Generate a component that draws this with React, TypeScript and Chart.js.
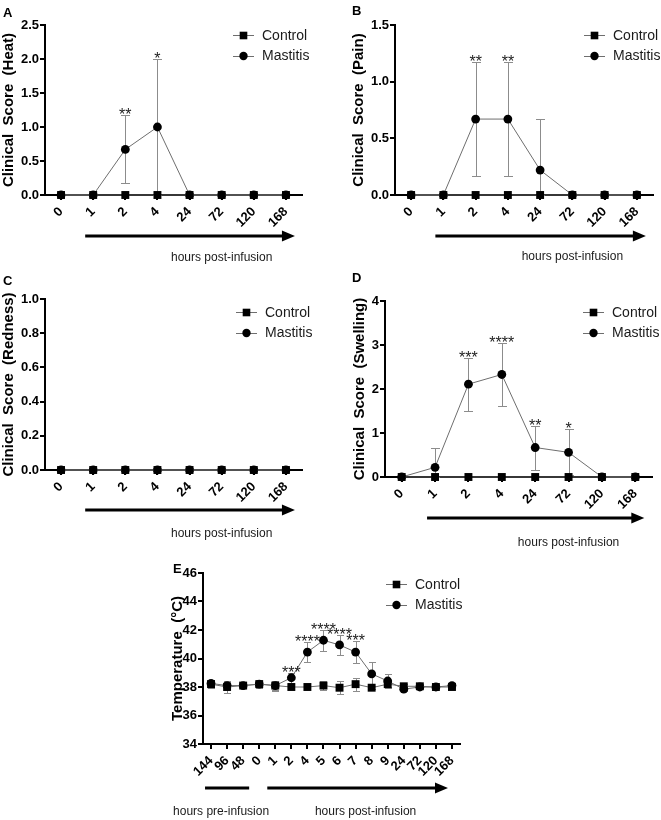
import { useEffect, useRef } from 'react';
import { Chart, registerables } from 'chart.js';

Chart.register(...registerables);

const FONT = '"Liberation Sans", Arial, Helvetica, sans-serif';

// ---------- data ----------
const postHours = ['0', '1', '2', '4', '24', '72', '120', '168'];

const heatControl = [0, 0, 0, 0, 0, 0, 0, 0];
const heatMastitis = [0, 0, 0.67, 1.0, 0, 0, 0, 0];
const heatMastitisSem = [0, 0, 0.5, 1.0, 0, 0, 0, 0];
const heatStars = ['', '', '**', '*', '', '', '', ''];

const painControl = [0, 0, 0, 0, 0, 0, 0, 0];
const painMastitis = [0, 0, 0.67, 0.67, 0.22, 0, 0, 0];
const painMastitisSem = [0, 0, 0.5, 0.5, 0.45, 0, 0, 0];
const painStars = ['', '', '**', '**', '', '', '', ''];

const rednessControl = [0, 0, 0, 0, 0, 0, 0, 0];
const rednessMastitis = [0, 0, 0, 0, 0, 0, 0, 0];
const rednessMastitisSem = [0, 0, 0, 0, 0, 0, 0, 0];
const rednessStars = ['', '', '', '', '', '', '', ''];

const swellingControl = [0, 0, 0, 0, 0, 0, 0, 0];
const swellingMastitis = [0, 0.22, 2.11, 2.33, 0.67, 0.56, 0, 0];
const swellingMastitisSem = [0, 0.45, 0.6, 0.71, 0.5, 0.52, 0, 0];
const swellingStars = ['', '', '***', '****', '**', '*', '', ''];

const tempHours = ['144', '96', '48', '0', '1', '2', '4', '5', '6', '7', '8', '9', '24', '72', '120', '168'];
const tempControl = [38.2, 38.0, 38.1, 38.2, 38.1, 38.0, 38.0, 38.1, 37.95, 38.2, 37.95, 38.2, 38.05, 38.05, 38.0, 38.0];
const tempControlSem = [0.3, 0.45, 0.1, 0.3, 0.35, 0.1, 0.1, 0.3, 0.45, 0.45, 0.1, 0.2, 0.15, 0.15, 0.1, 0.15];
const tempMastitis = [38.25, 38.1, 38.1, 38.2, 38.1, 38.65, 40.45, 41.28, 40.95, 40.45, 38.92, 38.42, 37.85, 38.0, 38.0, 38.1];
const tempMastitisSem = [0.25, 0.25, 0.1, 0.25, 0.3, 0.35, 0.7, 0.72, 0.68, 0.76, 0.84, 0.52, 0.1, 0.1, 0.1, 0.15];
const tempStars = ['', '', '', '', '', '***', '****', '****', '****', '***', '', '', '', '', '', ''];

const seriesNames = ['Control', 'Mastitis'];

// ---------- panel layout ----------
type Bar = { from: number; fromOff: number; to: number; toOff: number; head: boolean };
type Note = { text: string; at: number; off: number };
type Panel = {
  key: string;
  letter: string; letterX: number; letterY: number;
  left: number; top: number; width: number; height: number;
  padLeft: number; padTop: number; padRight: number;
  yWidth: number; xHeight: number;
  labels: string[];
  control: number[]; mastitis: number[];
  controlSem: number[] | null; mastitisSem: number[] | null;
  stars: string[];
  yMin: number; yMax: number; yStep: number; decimals: number;
  yTitle: string;
  legendDx: number; legendDy: number;
  bars: Bar[]; barDy: number;
  notes: Note[]; noteDy: number;
  cap: number;
};

const postBars: Bar[] = [{ from: 1, fromOff: -8, to: 7, toOff: 9, head: true }];
const postNotes: Note[] = [{ text: 'hours post-infusion', at: 5, off: 0 }];

const panels: Panel[] = [
  {
    key: 'A', letter: 'A', letterX: 3, letterY: 17,
    left: 0, top: 0, width: 330, height: 270,
    padLeft: 0, padTop: 25, padRight: 28, yWidth: 45, xHeight: 75,
    labels: postHours, control: heatControl, mastitis: heatMastitis,
    controlSem: null, mastitisSem: heatMastitisSem, stars: heatStars,
    yMin: 0, yMax: 2.5, yStep: 0.5, decimals: 1,
    yTitle: 'Clinical  Score  (Heat)',
    legendDx: -40, legendDy: 10,
    bars: postBars, barDy: 41, notes: postNotes, noteDy: 63, cap: 4.5,
  },
  {
    key: 'B', letter: 'B', letterX: 22, letterY: 15,
    left: 330, top: 0, width: 331, height: 270,
    padLeft: 20, padTop: 25, padRight: 8, yWidth: 45, xHeight: 75,
    labels: postHours, control: painControl, mastitis: painMastitis,
    controlSem: null, mastitisSem: painMastitisSem, stars: painStars,
    yMin: 0, yMax: 1.5, yStep: 0.5, decimals: 1,
    yTitle: 'Clinical  Score  (Pain)',
    legendDx: -40, legendDy: 10,
    bars: postBars, barDy: 41, notes: postNotes, noteDy: 62, cap: 4.5,
  },
  {
    key: 'C', letter: 'C', letterX: 3, letterY: 15,
    left: 0, top: 270, width: 330, height: 275,
    padLeft: 0, padTop: 29, padRight: 28, yWidth: 45, xHeight: 75,
    labels: postHours, control: rednessControl, mastitis: rednessMastitis,
    controlSem: null, mastitisSem: rednessMastitisSem, stars: rednessStars,
    yMin: 0, yMax: 1.0, yStep: 0.2, decimals: 1,
    yTitle: 'Clinical  Score  (Redness)',
    legendDx: -37, legendDy: 13,
    bars: postBars, barDy: 40, notes: postNotes, noteDy: 64, cap: 4.5,
  },
  {
    key: 'D', letter: 'D', letterX: 22, letterY: 12,
    left: 330, top: 270, width: 331, height: 285,
    padLeft: 21, padTop: 31, padRight: 9, yWidth: 34, xHeight: 78,
    labels: postHours, control: swellingControl, mastitis: swellingMastitis,
    controlSem: null, mastitisSem: swellingMastitisSem, stars: swellingStars,
    yMin: 0, yMax: 4, yStep: 1, decimals: 0,
    yTitle: 'Clinical  Score  (Swelling)',
    legendDx: -40, legendDy: 11,
    bars: postBars, barDy: 41, notes: postNotes, noteDy: 66, cap: 4.5,
  },
  {
    key: 'E', letter: 'E', letterX: 13, letterY: 33,
    left: 160, top: 540, width: 320, height: 280,
    padLeft: 9, padTop: 33, padRight: 20, yWidth: 34, xHeight: 76,
    labels: tempHours, control: tempControl, mastitis: tempMastitis,
    controlSem: tempControlSem, mastitisSem: tempMastitisSem, stars: tempStars,
    yMin: 34, yMax: 46, yStep: 2, decimals: 0,
    yTitle: 'Temperature  (°C)',
    legendDx: -45, legendDy: 11,
    bars: [
      { from: 0, fromOff: -6, to: 2, toOff: 6, head: false },
      { from: 4, fromOff: -8, to: 15, toOff: -4, head: true },
    ],
    barDy: 44,
    notes: [
      { text: 'hours pre-infusion', at: 1, off: -6 },
      { text: 'hours post-infusion', at: 9, off: 10 },
    ],
    noteDy: 68, cap: 3.5,
  },
];

const LINE = '#6e6e6e';
const ERR = '#8c8c8c';

function makeDecor(p: Panel) {
  return {
    id: 'decor' + p.key,
    beforeDatasetsDraw(chart: any) {
      const ctx = chart.ctx;
      const xs = chart.scales.x;
      const ys = chart.scales.y;
      ctx.save();
      ctx.strokeStyle = ERR;
      ctx.lineWidth = 1;
      const groups: [number[], number[] | null][] = [
        [p.mastitis, p.mastitisSem],
        [p.control, p.controlSem],
      ];
      for (const [vals, sem] of groups) {
        if (!sem) continue;
        vals.forEach((v, i) => {
          const e = sem[i];
          if (!e) return;
          const px = Math.round(xs.getPixelForValue(i)) + 0.5;
          const t = Math.round(ys.getPixelForValue(Math.min(v + e, p.yMax))) + 0.5;
          const b = Math.round(ys.getPixelForValue(Math.max(v - e, p.yMin))) + 0.5;
          ctx.beginPath();
          ctx.moveTo(px, t);
          ctx.lineTo(px, b);
          ctx.moveTo(px - p.cap, t);
          ctx.lineTo(px + p.cap, t);
          ctx.moveTo(px - p.cap, b);
          ctx.lineTo(px + p.cap, b);
          ctx.stroke();
        });
      }
      ctx.restore();
    },
    afterDraw(chart: any) {
      const ctx = chart.ctx;
      const xs = chart.scales.x;
      const ys = chart.scales.y;
      const area = chart.chartArea;
      ctx.save();
      // significance stars
      ctx.fillStyle = '#222';
      ctx.font = `16px ${FONT}`;
      ctx.textAlign = 'center';
      ctx.textBaseline = 'alphabetic';
      p.stars.forEach((s, i) => {
        if (!s) return;
        const e = p.mastitisSem ? p.mastitisSem[i] : 0;
        const top = ys.getPixelForValue(p.mastitis[i] + e);
        ctx.fillText(s, xs.getPixelForValue(i), top + 5);
      });
      // legend
      const tx = area.right + p.legendDx;
      seriesNames.forEach((name, k) => {
        const y = area.top + p.legendDy + k * 20.5;
        ctx.strokeStyle = LINE;
        ctx.lineWidth = 1;
        ctx.beginPath();
        ctx.moveTo(tx - 29, Math.round(y) + 0.5);
        ctx.lineTo(tx - 8, Math.round(y) + 0.5);
        ctx.stroke();
        ctx.fillStyle = '#000';
        const cx = tx - 18.5;
        if (k === 0) {
          ctx.fillRect(cx - 3.8, y - 3.3, 7.6, 7.6);
        } else {
          ctx.beginPath();
          ctx.arc(cx, y + 0.5, 4.2, 0, Math.PI * 2);
          ctx.fill();
        }
        ctx.fillStyle = '#1a1a1a';
        ctx.font = `14px ${FONT}`;
        ctx.textAlign = 'left';
        ctx.textBaseline = 'middle';
        ctx.fillText(name, tx, y + 1);
      });
      // time bars / arrows
      const by = area.bottom + p.barDy;
      ctx.strokeStyle = '#000';
      ctx.fillStyle = '#000';
      ctx.lineWidth = 3;
      p.bars.forEach((b) => {
        const x0 = xs.getPixelForValue(b.from) + b.fromOff;
        const x1 = xs.getPixelForValue(b.to) + b.toOff;
        ctx.beginPath();
        ctx.moveTo(x0, by);
        ctx.lineTo(b.head ? x1 - 8 : x1, by);
        ctx.stroke();
        if (b.head) {
          ctx.beginPath();
          ctx.moveTo(x1 - 13, by - 5.5);
          ctx.lineTo(x1, by);
          ctx.lineTo(x1 - 13, by + 5.5);
          ctx.closePath();
          ctx.fill();
        }
      });
      // notes
      ctx.fillStyle = '#1a1a1a';
      ctx.font = `12px ${FONT}`;
      ctx.textAlign = 'center';
      ctx.textBaseline = 'middle';
      p.notes.forEach((n) => {
        ctx.fillText(n.text, xs.getPixelForValue(n.at) + n.off, area.bottom + p.noteDy);
      });
      // panel letter
      ctx.fillStyle = '#000';
      ctx.font = `bold 13px ${FONT}`;
      ctx.textAlign = 'left';
      ctx.textBaseline = 'alphabetic';
      ctx.fillText(p.letter, p.letterX, p.letterY);
      ctx.restore();
    },
  };
}

function PanelChart({ p }: { p: Panel }) {
  const ref = useRef<HTMLCanvasElement | null>(null);
  useEffect(() => {
    if (!ref.current) return;
    const tickFont = { family: FONT, size: 13, weight: 'bold' as const };
    const chart = new Chart(ref.current, {
      type: 'line',
      data: {
        labels: p.labels,
        datasets: [
          {
            label: seriesNames[0],
            data: p.control,
            borderColor: LINE,
            borderWidth: 1,
            backgroundColor: '#000',
            pointStyle: 'rect',
            pointRadius: 5.6,
            pointBorderWidth: 0,
            pointBackgroundColor: '#000',
            clip: false as any,
            tension: 0,
          },
          {
            label: seriesNames[1],
            data: p.mastitis,
            borderColor: LINE,
            borderWidth: 1,
            backgroundColor: '#000',
            pointStyle: 'circle',
            pointRadius: 4.4,
            pointBorderWidth: 0,
            pointBackgroundColor: '#000',
            clip: false as any,
            tension: 0,
          },
        ],
      },
      options: {
        animation: false,
        responsive: false,
        devicePixelRatio: 1,
        events: [],
        layout: { padding: { left: p.padLeft, top: p.padTop, right: p.padRight, bottom: 0 } },
        plugins: { legend: { display: false }, tooltip: { enabled: false } },
        scales: {
          x: {
            type: 'category',
            offset: true,
            z: 1,
            grid: {
              display: true,
              offset: false,
              drawOnChartArea: false,
              drawTicks: true,
              tickLength: 5,
              color: '#000',
              lineWidth: 2,
            },
            border: { display: true, color: '#000', width: 2 },
            ticks: {
              color: '#000',
              font: tickFont,
              minRotation: 45,
              maxRotation: 45,
              autoSkip: false,
              padding: 4,
            },
            afterFit: (s: any) => {
              s.height = p.xHeight;
            },
          },
          y: {
            type: 'linear',
            min: p.yMin,
            max: p.yMax,
            z: 1,
            grid: {
              display: true,
              drawOnChartArea: false,
              drawTicks: true,
              tickLength: 5,
              color: '#000',
              lineWidth: 2,
            },
            border: { display: true, color: '#000', width: 2 },
            ticks: {
              color: '#000',
              font: tickFont,
              stepSize: p.yStep,
              padding: 1,
              callback: (v: any) => Number(v).toFixed(p.decimals),
            },
            title: {
              display: true,
              text: p.yTitle,
              color: '#000',
              font: { family: FONT, size: 15, weight: 'bold' },
              padding: { top: 0, bottom: 0 },
            },
            afterFit: (s: any) => {
              s.width = p.yWidth;
            },
          },
        },
      },
      plugins: [makeDecor(p)],
    });
    return () => chart.destroy();
  }, [p]);
  return (
    <canvas
      ref={ref}
      width={p.width}
      height={p.height}
      style={{ position: 'absolute', left: p.left, top: p.top, width: p.width, height: p.height }}
    />
  );
}

export default function App() {
  return (
    <div style={{ position: 'absolute', left: 0, top: 0, width: 661, height: 820, background: '#fff', overflow: 'hidden' }}>
      {panels.map((p) => (
        <PanelChart key={p.key} p={p} />
      ))}
    </div>
  );
}
